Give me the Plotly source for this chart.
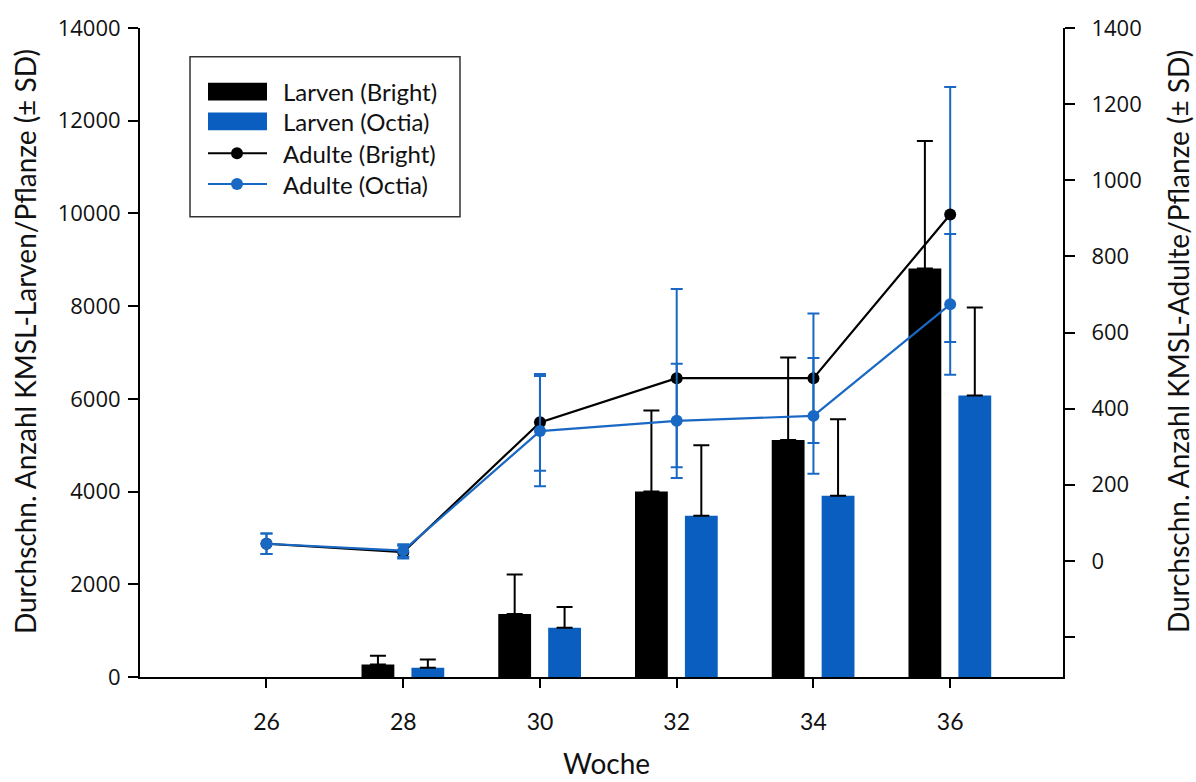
import plotly.graph_objects as go

# ---------------- data ----------------
weeks = [26, 28, 30, 32, 34, 36]
larven_bright = [None, 270, 1360, 4000, 5110, 8810]
larven_bright_sd = [None, 190, 850, 1750, 1780, 2750]
larven_octia = [None, 200, 1060, 3480, 3910, 6070]
larven_octia_sd = [None, 180, 450, 1520, 1650, 1900]

adulte_bright = [45, 23, 364, 480, 480, 910]
adulte_bright_sd = [27, 17, 127, 234, 170, 335]
adulte_octia = [45, 27, 341, 368, 381, 674]
adulte_octia_sd = [27, 17, 145, 150, 152, 185]

x_ticks = [26, 28, 30, 32, 34, 36]
y_left_ticks = [0, 2000, 4000, 6000, 8000, 10000, 12000, 14000]
y_left_labels = ["0", "2000", "4000", "6000", "8000", "10000", "12000", "14000"]
y_right_ticks = [-200, 0, 200, 400, 600, 800, 1000, 1200, 1400]
y_right_labels = ["", "0", "200", "400", "600", "800", "1000", "1200", "1400"]

legend_names = ["Larven (Bright)", "Larven (Octia)", "Adulte (Bright)", "Adulte (Octia)"]

BLACK = "#000000"
BLUE = "#0A5EC0"
BLUE_LINE = "#1868C4"

TICK_FONT = dict(family="Open Sans", size=22, color="#111")
TITLE_FAMILY = "Lato"

# ---------------- figure ----------------
W, H = 1196, 782
L, R, T, B = 140, 133, 24, 105
pw, ph = W - L - R, H - T - B

fig = go.Figure()

fig.add_trace(go.Bar(
    x=weeks, y=larven_bright, name=legend_names[0],
    width=0.48, offset=-0.61,
    marker=dict(color=BLACK, line=dict(width=0)),
    error_y=dict(type="data", symmetric=False, array=larven_bright_sd,
                 arrayminus=[0] * len(weeks), color=BLACK, thickness=2, width=8),
    showlegend=False,
))
fig.add_trace(go.Bar(
    x=weeks, y=larven_octia, name=legend_names[1],
    width=0.48, offset=0.12,
    marker=dict(color=BLUE, line=dict(width=0)),
    error_y=dict(type="data", symmetric=False, array=larven_octia_sd,
                 arrayminus=[0] * len(weeks), color=BLACK, thickness=2, width=8),
    showlegend=False,
))
fig.add_trace(go.Scatter(
    x=weeks, y=adulte_bright, name=legend_names[2], yaxis="y2",
    mode="lines+markers",
    line=dict(color=BLACK, width=2.2),
    marker=dict(color=BLACK, size=12),
    error_y=dict(type="data", array=adulte_bright_sd, color=BLUE_LINE,
                 thickness=2, width=6),
    showlegend=False,
))
fig.add_trace(go.Scatter(
    x=weeks, y=adulte_octia, name=legend_names[3], yaxis="y2",
    mode="lines+markers",
    line=dict(color=BLUE_LINE, width=2.2),
    marker=dict(color=BLUE_LINE, size=12),
    error_y=dict(type="data", array=adulte_octia_sd, color=BLUE_LINE,
                 thickness=2, width=6),
    showlegend=False,
))

fig.update_layout(
    width=W, height=H,
    margin=dict(l=L, r=R, t=T, b=B),
    paper_bgcolor="white", plot_bgcolor="white",
    barmode="overlay",
    showlegend=False,
    xaxis=dict(
        range=[24.15, 37.65], tickvals=x_ticks,
        ticktext=[str(v) for v in x_ticks],
        showgrid=False, zeroline=False,
        showline=True, linecolor=BLACK, linewidth=2,
        ticks="outside", ticklen=9, tickwidth=1.5, tickcolor=BLACK,
        tickfont=dict(family=TITLE_FAMILY, size=23, color="#111"),
        ticklabelstandoff=14,
    ),
    yaxis=dict(
        range=[0, 14000], tickvals=y_left_ticks, ticktext=y_left_labels,
        showgrid=False, zeroline=False,
        showline=True, linecolor=BLACK, linewidth=2,
        ticks="outside", ticklen=10, tickwidth=1.5, tickcolor=BLACK,
        tickfont=TICK_FONT, ticklabelstandoff=3,
    ),
    yaxis2=dict(
        range=[-305, 1400], tickvals=y_right_ticks, ticktext=y_right_labels,
        overlaying="y", side="right",
        showgrid=False, zeroline=False,
        showline=True, linecolor=BLACK, linewidth=2,
        ticks="outside", ticklen=10, tickwidth=1.5, tickcolor=BLACK,
        tickfont=TICK_FONT, ticklabelstandoff=12,
    ),
)


def px_x(px):
    return (px - L) / pw


def px_y(py):
    return (H - B - py) / ph


# axis titles
fig.add_annotation(
    text="Durchschn. Anzahl KMSL-Larven/Pflanze (± SD)", textangle=-90,
    xref="paper", yref="paper", x=px_x(25), y=px_y(340),
    showarrow=False, font=dict(family=TITLE_FAMILY, size=28, color="#111"),
    xanchor="center", yanchor="middle",
)
fig.add_annotation(
    text="Durchschn. Anzahl KMSL-Adulte/Pflanze (± SD)", textangle=-90,
    xref="paper", yref="paper", x=px_x(1178), y=px_y(340),
    showarrow=False, font=dict(family=TITLE_FAMILY, size=28, color="#111"),
    xanchor="center", yanchor="middle",
)
fig.add_annotation(
    text="Woche", xref="paper", yref="paper", x=px_x(606), y=px_y(764),
    showarrow=False, font=dict(family=TITLE_FAMILY, size=28, color="#111"),
    xanchor="center", yanchor="middle",
)

# custom legend
fig.add_shape(type="rect", xref="paper", yref="paper",
              x0=px_x(190), x1=px_x(460), y0=px_y(53), y1=px_y(214),
              line=dict(color="#333", width=1.5), fillcolor="white", layer="above")
rows = [88, 118, 150, 181]
sw0, sw1 = 208, 267
for i, (name, yc) in enumerate(zip(legend_names, rows)):
    if i < 2:
        col = BLACK if i == 0 else BLUE
        fig.add_shape(type="rect", xref="paper", yref="paper",
                      x0=px_x(sw0), x1=px_x(sw1), y0=px_y(yc - 9), y1=px_y(yc + 9),
                      line=dict(width=0), fillcolor=col, layer="above")
    else:
        col = BLACK if i == 2 else BLUE_LINE
        fig.add_shape(type="line", xref="paper", yref="paper",
                      x0=px_x(sw0), x1=px_x(sw1), y0=px_y(yc), y1=px_y(yc),
                      line=dict(color=col, width=2), layer="above")
        fig.add_shape(type="circle", xref="paper", yref="paper",
                      x0=px_x(237 - 6), x1=px_x(237 + 6), y0=px_y(yc - 6), y1=px_y(yc + 6),
                      line=dict(width=0), fillcolor=col, layer="above")
    fig.add_annotation(
        text=name, xref="paper", yref="paper", x=px_x(281), y=px_y(yc),
        showarrow=False, xanchor="left", yanchor="middle",
        font=dict(family=TITLE_FAMILY, size=24, color="#111"),
    )

fig.write_html("out.html")
